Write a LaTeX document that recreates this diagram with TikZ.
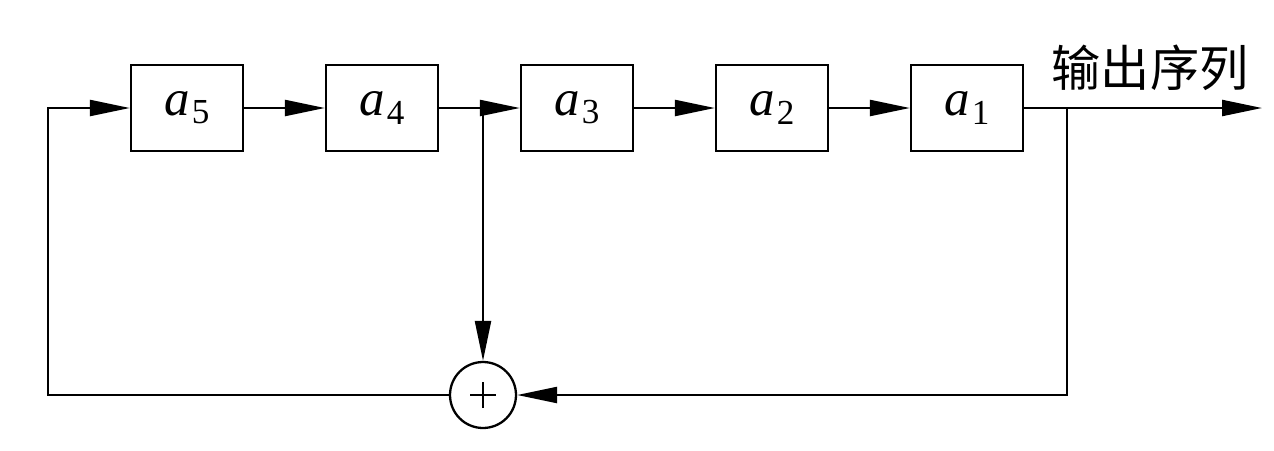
\documentclass[tikz,border=0pt]{standalone}
\usepackage{fontspec}
\setmainfont{Liberation Serif}
\newfontfamily\cjk{Noto Sans CJK SC}
\usetikzlibrary{arrows.meta}
\tikzset{
  blk/.style={draw, line width=1.3pt, minimum width=2.24cm, minimum height=1.72cm, inner sep=0pt},
  sumnode/.style={draw, circle, line width=1.3pt, minimum size=1.32cm, inner sep=0pt},
  conn/.style={line width=1.3pt},
  arr/.style={conn, -{Triangle[length=0.8cm,width=0.32cm]}},
}
\newcommand{\lab}[1]{{\fontsize{29}{29}\selectfont\itshape a\kern1pt\raisebox{-0.35ex}{\fontsize{20}{20}\selectfont\upshape #1}}}
\begin{document}
\begin{tikzpicture}[x=0.02cm, y=-0.02cm]
\useasboundingbox (0,0) rectangle (1274,450);
\node[blk] (a5) at (187,108) {\lab{5}};
\node[blk] (a4) at (382,108) {\lab{4}};
\node[blk] (a3) at (577,108) {\lab{3}};
\node[blk] (a2) at (772,108) {\lab{2}};
\node[blk] (a1) at (967,108) {\lab{1}};
\node[sumnode] (sum) at (483,395) {};
\coordinate (j1) at (483,108);
\coordinate (j2) at (1067,108);
\coordinate (out) at (1262,108);
\coordinate (c1) at (1067,395);
\coordinate (c2) at (48,395);
\coordinate (c3) at (48,108);
\node[font=\cjk\fontsize{28}{28}\selectfont, inner sep=0pt] (lbl) at (1150,68) {输出序列};
\draw[line width=0.8pt] ([xshift=-0.26cm]sum.center) -- ([xshift=0.26cm]sum.center);
\draw[line width=0.8pt] ([yshift=-0.26cm]sum.center) -- ([yshift=0.26cm]sum.center);
\draw[arr] (a5.east) -- (a4.west);
\draw[arr] (a4.east) -- (a3.west);
\draw[arr] (a3.east) -- (a2.west);
\draw[arr] (a2.east) -- (a1.west);
\draw[arr] (a1.east) -- (out);
\draw[arr] (j1) -- (sum.north);
\draw[arr] (j2) -- (c1) -- (sum.east);
\draw[arr] (sum.west) -- (c2) -- (c3) -- (a5.west);
\end{tikzpicture}
\end{document}
